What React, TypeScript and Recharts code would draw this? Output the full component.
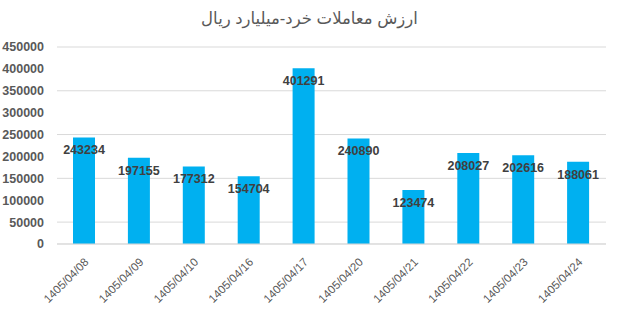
import { BarChart, Bar, XAxis, YAxis, CartesianGrid, LabelList } from "recharts";

const dates = [
  "1405/04/08",
  "1405/04/09",
  "1405/04/10",
  "1405/04/16",
  "1405/04/17",
  "1405/04/20",
  "1405/04/21",
  "1405/04/22",
  "1405/04/23",
  "1405/04/24",
];
const values = [243234, 197155, 177312, 154704, 401291, 240890, 123474, 208027, 202616, 188061];
const yTicks = [0, 50000, 100000, 150000, 200000, 250000, 300000, 350000, 400000, 450000];
const title = "ارزش معاملات خرد-میلیارد ریال";

const data = dates.map((d, i) => ({ date: d, value: values[i] }));
// light gridlines every 10000 between the labelled ticks
const minorTicks = Array.from({ length: 46 }, (_, i) => i * 10000);

const XTick = ({ x, y, payload }: any) => (
  <g transform={`translate(${x + 2},${y + 8})`}>
    <text
      textAnchor="end"
      transform="rotate(-45)"
      fontSize={11.5}
      fill="#595959"
      dy={4}
    >
      {payload.value}
    </text>
  </g>
);

export default function App() {
  return (
    <div
      style={{
        position: "absolute",
        left: 0,
        top: 0,
        width: 619,
        height: 312,
        background: "#fff",
        fontFamily: "'Liberation Sans', 'DejaVu Sans', Arial, sans-serif",
      }}
    >
      <div
        style={{
          position: "absolute",
          top: 9,
          left: 0,
          width: 619,
          textAlign: "center",
          fontSize: 16.5,
          color: "#595959",
          direction: "rtl",
        }}
      >
        {title}
      </div>
      <BarChart
        width={619}
        height={312}
        data={data}
        margin={{ top: 47, right: 13, bottom: 0, left: 0 }}
        barCategoryGap="60%"
      >
        <YAxis yAxisId="minor" hide domain={[0, 450000]} ticks={minorTicks} />
        <CartesianGrid yAxisId="minor" vertical={false} stroke="#eeeeee" horizontalValues={minorTicks} />
        <CartesianGrid vertical={false} stroke="#d9d9d9" />
        <XAxis
          dataKey="date"
          tick={<XTick />}
          tickLine={false}
          axisLine={{ stroke: "#d9d9d9" }}
          height={68}
          interval={0}
        />
        <YAxis
          domain={[0, 450000]}
          ticks={yTicks}
          width={57}
          axisLine={false}
          tickLine={false}
          tickMargin={7}
          tick={{ fontSize: 12.5, fontWeight: "bold", fill: "#595959" }}
        />
        <Bar dataKey="value" fill="#00b0f0" barSize={22} isAnimationActive={false}>
          <LabelList
            dataKey="value"
            position="insideTop"
            offset={8}
            fontSize={12.5}
            fontWeight="bold"
            fill="#404040"
          />
        </Bar>
      </BarChart>
    </div>
  );
}
